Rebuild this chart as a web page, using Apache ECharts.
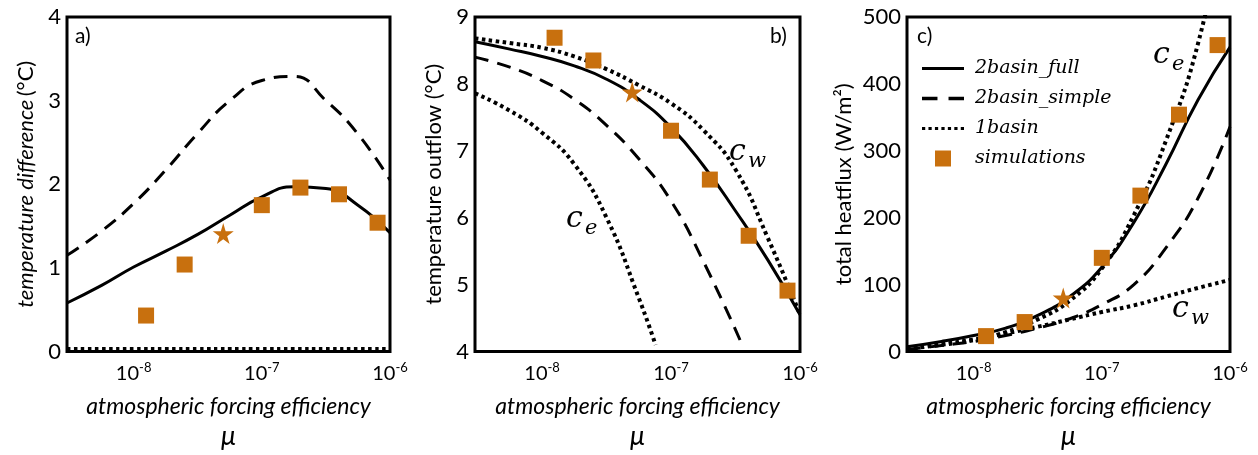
<!DOCTYPE html>
<html>
<head>
<meta charset="utf-8">
<script src="https://cdn.jsdelivr.net/npm/echarts@6.0.0/dist/echarts.min.js"></script>
<style>
  html, body { margin: 0; background: #fff; }
  #main { width: 1258px; height: 455px; }
</style>
</head>
<body>
<div id="main"></div>
<script>
// x is log10 of the atmospheric forcing efficiency mu
const logMuGrid = [-8.52, -8.25, -8.0, -7.75, -7.5, -7.25, -7.0, -6.75, -6.5, -6.25, -6.0];
const xTicks = [-8, -7, -6];

// simulations (squares) and the reference run (star), as mu
const muSim = [1.25e-8, 2.5e-8, 1e-7, 2e-7, 4e-7, 8e-7];
const muStar = [5e-8];

// a) temperature difference (°C)
const aFull = [0.58, 0.79, 1.01, 1.20, 1.40, 1.63, 1.85, 1.97, 1.95, 1.75, 1.42];
const aSimple = [1.15, 1.44, 1.77, 2.17, 2.61, 3.00, 3.24, 3.29, 3.00, 2.60, 2.05];
const aOne = [0.03, 0.03, 0.03, 0.03, 0.03, 0.03, 0.03, 0.03, 0.03, 0.03, 0.03];
const aSim = [0.43, 1.04, 1.75, 1.96, 1.88, 1.54];
const aStar = [1.41];

// b) temperature outflow (°C)
const bFull = [8.63, 8.52, 8.41, 8.27, 8.07, 7.77, 7.35, 6.78, 6.10, 5.37, 4.55];
const bOneW = [8.68, 8.61, 8.54, 8.41, 8.22, 7.98, 7.71, 7.31, 6.72, 5.70, 4.55];
const logMuBSimple = [-8.52, -8.25, -8.0, -7.75, -7.5, -7.25, -7.0, -6.75, -6.46];
const bSimple = [8.40, 8.25, 8.05, 7.77, 7.38, 6.88, 6.25, 5.35, 4.15];
const logMuBOneE = [-8.52, -8.25, -8.0, -7.75, -7.5, -7.25, -7.12];
const bOneE = [7.86, 7.60, 7.27, 6.80, 6.00, 4.80, 4.10];
const bSim = [8.69, 8.35, 7.30, 6.57, 5.73, 4.91];
const bStar = [7.88];

// c) total heatflux (W/m²)
const cFull = [7, 15, 24, 35, 54, 82, 126, 193, 280, 376, 455];
const cSimple = [3, 9, 15, 24, 35, 49, 70, 100, 155, 229, 336];
const cOneW = [4, 11, 18, 27, 37, 48, 59, 69, 82, 95, 107];
const logMuCOneE = [-8.52, -8.25, -8.0, -7.75, -7.5, -7.25, -7.0, -6.75, -6.5, -6.25, -6.0];
const cOneE = [4, 10, 17, 29, 48, 76, 124, 204, 315, 460, 680];
const cSim = [23, 44, 140, 233, 354, 458];
const cStar = [80];

const ORANGE = '#C8700E';
const FONT = 'Lato';
const MATH = 'DejaVu Serif';
const STAR = 'path://M50,0 L61,35 L98,35 L68,57 L79,91 L50,70 L21,91 L32,57 L2,35 L39,35 Z';

const solidLine = { color: '#000', width: 3, type: 'solid' };
const dashedLine = { color: '#000', width: 3, type: [14, 9] };
const dottedLine = { color: '#000', width: 4, type: [3.5, 3.5] };

// legend glyphs
const ICON_SOLID = 'path://M0,0H40V3H0Z';
const ICON_DASH = 'path://M0,0H14V3H0Z M24,0H38V3H24Z';
const ICON_DOT = 'path://M0,0H3V3H0Z M6,0H9V3H6Z M12,0H15V3H12Z M18,0H21V3H18Z M24,0H27V3H24Z M30,0H33V3H30Z M36,0H39V3H36Z';
const ICON_SQUARE = 'path://M0,0H10V10H0Z';

function pairs(xs, ys) {
  return xs.map((x, i) => [x, ys[i]]);
}

function curve(name, idx, xs, ys, ls) {
  return {
    type: 'line', name: name, xAxisIndex: idx, yAxisIndex: idx,
    data: pairs(xs, ys), showSymbol: false, symbol: 'none',
    smooth: 0.5, lineStyle: ls, itemStyle: { color: '#000' },
    silent: true, z: 3
  };
}

function points(name, idx, mus, ys, symbol, size) {
  return {
    type: 'scatter', name: name, xAxisIndex: idx, yAxisIndex: idx,
    data: pairs(mus.map(m => Math.log10(m)), ys), symbol: symbol, symbolSize: size,
    itemStyle: { color: ORANGE, opacity: 1 }, z: 5
  };
}

const grids = [
  { left: 67, top: 17, width: 323, height: 336 },
  { left: 475, top: 17, width: 325, height: 338 },
  { left: 907, top: 17, width: 323, height: 338 }
].map(g => Object.assign(g, { show: true, borderColor: '#000', borderWidth: 3, backgroundColor: '#fff' }));

const xAxes = [0, 1, 2].map(i => ({
  type: 'value', gridIndex: i, min: -8.52, max: -6,
  axisLine: { show: false }, axisTick: { show: false }, splitLine: { show: false },
  axisLabel: {
    margin: 10, color: '#000', customValues: xTicks,
    formatter: v => '{b|10}{s|' + Math.round(v) + '}',
    rich: {
      b: { fontFamily: FONT, fontSize: 20, color: '#000', lineHeight: 24 },
      s: { fontFamily: FONT, fontSize: 13, color: '#000', verticalAlign: 'top', lineHeight: 24, padding: [0, 0, 8, 0] }
    }
  },
  name: '{t|atmospheric forcing efficiency}\n{m|μ}',
  nameLocation: 'middle', nameGap: 40,
  nameTextStyle: {
    rich: {
      t: { fontFamily: FONT, fontStyle: 'italic', fontSize: 23, color: '#000', lineHeight: 30 },
      m: { fontFamily: FONT, fontStyle: 'italic', fontSize: 27, color: '#000', lineHeight: 30 }
    }
  }
}));

const yNames = [
  '{i|temperature difference} {n|(°C)}',
  '{n|temperature outflow (°C)}',
  '{n|total heatflux (W/m²)}'
];
const yRanges = [[0, 4, 1], [4, 9, 1], [0, 500, 100]];

const yAxes = [0, 1, 2].map(i => ({
  type: 'value', gridIndex: i, min: yRanges[i][0], max: yRanges[i][1], interval: yRanges[i][2],
  axisLine: { show: false }, axisTick: { show: false }, splitLine: { show: false },
  axisLabel: { fontFamily: FONT, fontSize: 22, color: '#000', margin: 6 },
  name: yNames[i], nameLocation: 'middle', nameRotate: 90, nameGap: i === 2 ? 52 : 30,
  nameTextStyle: {
    rich: {
      i: { fontFamily: FONT, fontStyle: 'italic', fontSize: 22, color: '#000' },
      n: { fontFamily: FONT, fontSize: 22, color: '#000' }
    }
  }
}));

const series = [
  curve('2basin_simple', 0, logMuGrid, aSimple, dashedLine),
  curve('2basin_full', 0, logMuGrid, aFull, solidLine),
  curve('1basin', 0, logMuGrid, aOne, dottedLine),
  points('simulations', 0, muSim, aSim, 'rect', 16),
  points('reference', 0, muStar, aStar, STAR, 21),

  curve('2basin_simple', 1, logMuBSimple, bSimple, dashedLine),
  curve('1basin', 1, logMuBOneE, bOneE, dottedLine),
  curve('1basin', 1, logMuGrid, bOneW, dottedLine),
  curve('2basin_full', 1, logMuGrid, bFull, solidLine),
  points('simulations', 1, muSim, bSim, 'rect', 16),
  points('reference', 1, muStar, bStar, STAR, 21),

  curve('2basin_simple', 2, logMuGrid, cSimple, dashedLine),
  curve('1basin', 2, logMuGrid, cOneW, dottedLine),
  curve('1basin', 2, logMuCOneE, cOneE, dottedLine),
  curve('2basin_full', 2, logMuGrid, cFull, solidLine),
  points('simulations', 2, muSim, cSim, 'rect', 16),
  points('reference', 2, muStar, cStar, STAR, 21)
];

function panelLabel(text, x, y) {
  return { type: 'text', left: x, top: y, z: 10,
    style: { text: text, fontFamily: FONT, fontSize: 21, fill: '#000' } };
}

function cLabel(sub, x, y) {
  return { type: 'group', left: x, top: y, z: 10, children: [
    { type: 'text', x: 0, y: 0, style: { text: 'c', fontFamily: MATH, fontStyle: 'italic', fontSize: 30, fill: '#000' } },
    { type: 'text', x: 19, y: 14, style: { text: sub, fontFamily: MATH, fontStyle: 'italic', fontSize: 21, fill: '#000' } }
  ] };
}

const chart = echarts.init(document.getElementById('main'), null, { renderer: 'canvas' });
chart.setOption({
  animation: false,
  backgroundColor: '#fff',
  grid: grids,
  xAxis: xAxes,
  yAxis: yAxes,
  legend: {
    left: 917, top: 54, orient: 'vertical', itemWidth: 42, itemHeight: 16, itemGap: 11,
    symbolKeepAspect: true,
    data: [
      { name: '2basin_full', icon: ICON_SOLID },
      { name: '2basin_simple', icon: ICON_DASH },
      { name: '1basin', icon: ICON_DOT },
      { name: 'simulations', icon: ICON_SQUARE }
    ],
    textStyle: { fontFamily: MATH, fontStyle: 'italic', fontSize: 19, color: '#000', padding: [0, 0, 0, 6] }
  },
  graphic: [
    panelLabel('a)', 75, 26),
    panelLabel('b)', 770, 26),
    panelLabel('c)', 917, 26),
    cLabel('w', 729, 137),
    cLabel('e', 566, 204),
    cLabel('e', 1153, 40),
    cLabel('w', 1172, 294)
  ],
  series: series
});
</script>
</body>
</html>
